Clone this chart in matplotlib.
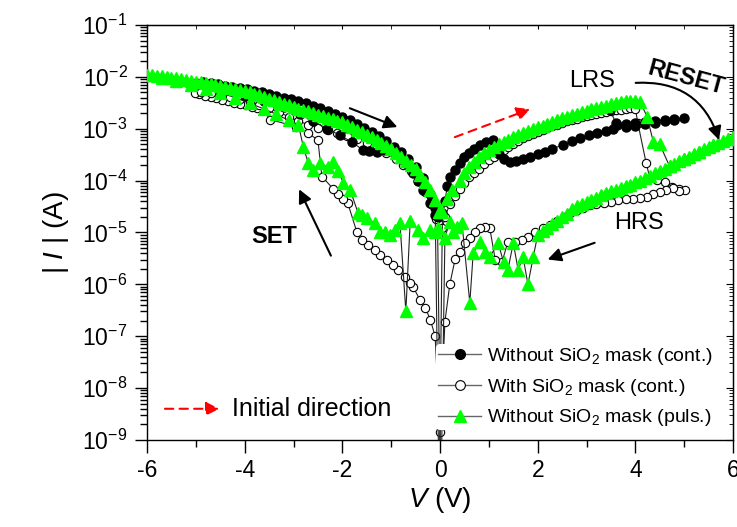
import matplotlib
matplotlib.use("Agg")
import matplotlib.pyplot as plt
from matplotlib.lines import Line2D
from matplotlib.patches import FancyArrowPatch

plt.rcParams['font.family'] = ['Liberation Sans', 'DejaVu Sans']
plt.rcParams['mathtext.fontset'] = 'custom'
plt.rcParams['mathtext.rm'] = 'Liberation Sans'
plt.rcParams['mathtext.it'] = 'Liberation Sans:italic'
plt.rcParams['mathtext.bf'] = 'Liberation Sans:bold'
plt.rcParams['axes.unicode_minus'] = False

# ---------------- data ----------------
labels = ["Without SiO$_2$ mask (cont.)", "With SiO$_2$ mask (cont.)", "Without SiO$_2$ mask (puls.)"]

# Without SiO2 mask, continuous sweep (filled black circles)
v_black = [-0.05, -0.1, -0.2, -0.35, -0.45, -0.55, -0.72, -0.92, -1.13, -1.29, -1.45, -1.58, -1.8, -2.05,
           -2.32, -2.6, -2.87, -3.2, -3.6, -4.0, -4.5, -5.0,
           -4.85, -4.7, -4.55, -4.4, -4.25, -4.1, -3.95, -3.8, -3.65, -3.5, -3.35, -3.2, -3.05, -2.9,
           -2.75, -2.6, -2.45, -2.3, -2.15, -2.0, -1.85, -1.7, -1.55, -1.4, -1.25, -1.1, -0.95, -0.8,
           -0.65, -0.5, -0.35, -0.2, -0.1, -0.02,
           0.05, 0.1, 0.15, 0.2, 0.3, 0.4, 0.5, 0.6, 0.7, 0.82, 0.95, 1.09,
           1.2, 1.3, 1.43, 1.55, 1.7, 1.84, 2.0, 2.15, 2.3, 2.52, 2.7, 2.87, 3.05, 3.22, 3.4, 3.55,
           3.62, 3.8, 4.0, 4.2, 4.4, 4.6, 4.8, 5.0,
           4.8, 4.6, 4.4, 4.2, 4.0, 3.8, 3.6, 3.48]
i_black = [2.0e-5, 2.2e-5, 3.7e-5, 6.6e-5, 1.0e-4, 1.4e-4, 2.2e-4, 3.2e-4, 3.9e-4, 3.6e-4, 3.7e-4, 3.9e-4, 5.5e-4, 7.5e-4,
           1.0e-3, 1.4e-3, 1.9e-3, 2.6e-3, 3.4e-3, 4.3e-3, 5.7e-3, 7.6e-3,
           8.0e-3, 7.6e-3, 7.2e-3, 6.8e-3, 6.5e-3, 6.1e-3, 5.8e-3, 5.4e-3, 5.0e-3, 4.7e-3, 4.3e-3, 4.0e-3, 3.7e-3, 3.4e-3,
           3.1e-3, 2.8e-3, 2.5e-3, 2.2e-3, 1.95e-3, 1.7e-3, 1.45e-3, 1.25e-3, 1.05e-3, 8.8e-4, 7.2e-4, 5.8e-4, 4.5e-4, 3.5e-4,
           2.6e-4, 1.8e-4, 1.1e-4, 5.5e-5, 3.0e-5, 1.0e-10,
           2.4e-5, 4.0e-5, 8.0e-5, 1.2e-4, 1.6e-4, 2.2e-4, 2.9e-4, 3.4e-4, 4.0e-4, 4.9e-4, 5.5e-4, 6.0e-4,
           3.2e-4, 2.6e-4, 2.3e-4, 2.4e-4, 2.6e-4, 2.9e-4, 3.2e-4, 3.6e-4, 4.1e-4, 4.9e-4, 5.7e-4, 6.6e-4, 7.5e-4, 8.3e-4, 9.2e-4, 1.0e-3,
           1.2e-3, 1.25e-3, 1.3e-3, 1.35e-3, 1.42e-3, 1.48e-3, 1.55e-3, 1.62e-3,
           1.45e-3, 1.38e-3, 1.3e-3, 1.22e-3, 1.15e-3, 1.1e-3, 1.3e-3, 2.3e-3]

# With SiO2 mask, continuous sweep (open circles)
v_open = [0.05, 0.1, 0.2, 0.3, 0.4, 0.5, 0.6, 0.7, 0.8, 0.9, 1.0, 1.1, 1.2, 1.3, 1.4, 1.5, 1.6, 1.7, 1.8, 1.9,
          2.0, 2.1, 2.2, 2.3, 2.4, 2.5, 2.6, 2.7, 2.8, 2.9, 3.0, 3.1, 3.2, 3.3, 3.4, 3.5, 3.6, 3.7, 3.8, 3.9, 4.0,
          4.05, 4.22, 4.3, 4.45, 4.6, 4.75, 4.9, 5.02,
          4.9, 4.77, 4.63, 4.5, 4.37, 4.24, 4.1, 3.95, 3.8, 3.65, 3.5, 3.35, 3.2, 3.07, 2.93, 2.8, 2.66, 2.53,
          2.4, 2.25, 2.11, 1.95, 1.8, 1.68, 1.54, 1.39, 1.27, 1.13, 1.02, 0.92, 0.82, 0.72, 0.61, 0.51, 0.41,
          0.31, 0.2, 0.1, 0.0, -0.1, -0.2, -0.3, -0.41, -0.55, -0.61, -0.72, -0.86, -0.96, -1.09, -1.23, -1.33,
          -1.48, -1.6, -1.7, -1.89, -1.99, -2.09, -2.19, -2.42, -2.5, -2.7, -2.95, -3.48,
          -3.62, -3.74, -3.86, -3.98, -4.1, -4.22, -4.34, -4.46, -4.58, -4.7, -4.82, -4.94, -5.02,
          -4.9, -4.7, -4.5, -4.3, -4.1, -3.9, -3.7, -3.5, -3.3, -3.1, -2.9, -2.7, -2.5, -2.3, -2.1, -1.9,
          -1.7, -1.5, -1.3, -1.1, -0.9, -0.75, -0.6, -0.45, -0.3, -0.18, -0.08]
i_open = [1.2e-5, 2.0e-5, 3.5e-5, 5.0e-5, 7.0e-5, 9.0e-5, 1.15e-4, 1.4e-4, 1.7e-4, 2.1e-4, 2.5e-4, 2.9e-4, 3.4e-4, 3.9e-4,
          4.5e-4, 5.1e-4, 5.8e-4, 6.5e-4, 7.3e-4, 8.0e-4,
          8.8e-4, 9.5e-4, 1.03e-3, 1.11e-3, 1.2e-3, 1.29e-3, 1.38e-3, 1.46e-3, 1.55e-3, 1.65e-3, 1.75e-3, 1.85e-3, 1.95e-3,
          2.03e-3, 2.1e-3, 2.18e-3, 2.25e-3, 2.32e-3, 2.4e-3, 2.5e-3, 2.45e-3,
          1.3e-3, 2.2e-4, 1.1e-4, 1.05e-4, 9.5e-5, 7.5e-5, 7.0e-5, 6.6e-5,
          6.2e-5, 7.2e-5, 6.6e-5, 6.0e-5, 5.4e-5, 4.9e-5, 4.7e-5, 4.5e-5, 4.4e-5, 4.2e-5, 3.9e-5, 3.7e-5, 3.6e-5, 3.4e-5,
          3.0e-5, 2.7e-5, 2.4e-5, 2.0e-5,
          1.7e-5, 1.4e-5, 1.2e-5, 1.0e-5, 8.3e-6, 7.2e-6, 6.6e-6, 6.6e-6, 2.7e-6, 3.0e-6, 1.2e-5, 1.3e-5, 1.2e-5, 1.0e-5,
          7.9e-6, 6.3e-6, 4.3e-6,
          3.1e-6, 1.0e-6, 1.9e-7, 1.4e-9, 1.0e-7, 2.1e-7, 3.5e-7, 5.0e-7, 8.9e-7, 1.07e-6, 1.4e-6, 1.9e-6, 2.4e-6, 3.0e-6,
          3.7e-6, 4.6e-6,
          5.8e-6, 7.3e-6, 1.0e-5, 3.7e-5, 4.5e-5, 5.5e-5, 7.0e-5, 1.2e-4, 6.0e-4, 8.3e-4, 1.1e-3, 1.5e-3,
          2.3e-3, 2.5e-3, 2.65e-3, 2.85e-3, 3.0e-3, 3.2e-3, 3.4e-3, 3.6e-3, 3.85e-3, 4.1e-3, 4.35e-3, 4.65e-3, 4.9e-3,
          5.2e-3, 4.9e-3, 4.5e-3, 4.1e-3, 3.7e-3, 3.3e-3, 2.9e-3, 2.5e-3, 2.1e-3, 1.7e-3, 1.4e-3, 1.2e-3, 1.05e-3,
          9.3e-4, 8.3e-4, 7.3e-4,
          6.3e-4, 5.3e-4, 4.3e-4, 3.4e-4, 2.6e-4, 2.0e-4, 1.5e-4, 1.0e-4, 6.0e-5, 3.5e-5, 1.8e-5]

# Without SiO2 mask, pulsed (green triangles)
v_puls = [0.05, 0.15, 0.25, 0.4, 0.5, 0.6, 0.7, 0.8, 0.9, 1.0, 1.1, 1.2, 1.3, 1.4, 1.5, 1.6, 1.7, 1.8, 1.9, 2.0,
          2.1, 2.2, 2.3, 2.4, 2.5, 2.6, 2.7, 2.8, 2.9, 3.0, 3.1, 3.2, 3.3, 3.4, 3.5, 3.6, 3.7, 3.8, 3.9, 4.0, 4.1,
          4.24, 4.37, 4.5, 4.7, 5.0, 5.3, 5.6, 5.9,
          6.0, 5.9, 5.8, 5.7, 5.6, 5.5, 5.4, 5.3, 5.2, 5.1, 5.0, 4.9, 4.8, 4.7, 4.6, 4.5, 4.4, 4.3, 4.2, 4.1,
          4.0, 3.9, 3.8, 3.7, 3.6, 3.5, 3.4, 3.3, 3.2, 3.1, 3.0, 2.9, 2.8, 2.7, 2.6, 2.5, 2.4, 2.3, 2.2, 2.1, 2.0,
          1.91, 1.8, 1.7, 1.6, 1.5, 1.39, 1.3, 1.19, 1.02, 0.92, 0.82, 0.68, 0.61, 0.45, 0.35, 0.27, 0.2, 0.1,
          0.02, -0.05, -0.1, -0.2, -0.35, -0.45, -0.61, -0.7, -0.82, -0.92, -1.02, -1.13, -1.23, -1.33, -1.5,
          -1.6, -1.68, -1.84, -1.98, -2.08, -2.19, -2.3, -2.46, -2.6, -2.7, -2.8,
          -2.9, -3.1, -3.35, -3.6, -3.9, -4.2, -4.5, -4.8, -5.1, -5.4, -5.7, -6.0,
          -5.9, -5.8, -5.7, -5.6, -5.5, -5.4, -5.3, -5.2, -5.1, -5.0, -4.9, -4.8, -4.7, -4.6, -4.5, -4.4, -4.3,
          -4.2, -4.1, -4.0, -3.9, -3.8, -3.7, -3.6, -3.5, -3.4, -3.3, -3.2, -3.1, -3.0, -2.9, -2.8, -2.7, -2.6,
          -2.5, -2.4, -2.3, -2.2, -2.1, -2.0, -1.9, -1.8, -1.7, -1.6, -1.5, -1.4, -1.3, -1.2, -1.1, -1.0, -0.9,
          -0.8, -0.7, -0.6, -0.5, -0.4, -0.3, -0.2, -0.1, -0.03]
i_puls = [2.5e-5, 4.5e-5, 6.5e-5, 1.0e-4, 1.4e-4, 1.8e-4, 2.3e-4, 2.8e-4, 3.4e-4, 3.9e-4, 4.5e-4, 5.0e-4, 5.6e-4, 6.2e-4,
          6.8e-4, 7.5e-4, 8.2e-4, 9.0e-4, 9.8e-4, 1.06e-3,
          1.15e-3, 1.25e-3, 1.35e-3, 1.45e-3, 1.58e-3, 1.7e-3, 1.82e-3, 1.95e-3, 2.08e-3, 2.2e-3, 2.35e-3, 2.5e-3, 2.65e-3,
          2.8e-3, 2.95e-3, 3.1e-3, 3.25e-3, 3.35e-3, 3.4e-3, 3.4e-3, 3.3e-3,
          1.7e-3, 5.5e-4, 5.0e-4, 1.9e-4, 2.6e-4, 3.6e-4, 4.9e-4, 6.4e-4,
          7.0e-4, 6.4e-4, 5.9e-4, 5.3e-4, 4.9e-4, 4.4e-4, 4.0e-4, 3.6e-4, 3.2e-4, 2.9e-4, 2.6e-4, 2.35e-4, 2.1e-4, 1.9e-4,
          1.7e-4, 1.55e-4, 1.4e-4, 1.25e-4, 1.1e-4, 1.0e-4,
          9.2e-5, 8.4e-5, 7.8e-5, 7.2e-5, 6.6e-5, 6.2e-5, 5.8e-5, 5.2e-5, 4.7e-5, 4.3e-5, 3.9e-5, 3.5e-5, 3.2e-5, 2.8e-5,
          2.3e-5, 2.0e-5, 1.7e-5, 1.45e-5, 1.2e-5, 1.05e-5, 9.0e-6,
          3.4e-6, 1.0e-6, 3.4e-6, 1.9e-6, 6.3e-6, 1.9e-6, 2.7e-6, 6.3e-6, 3.4e-6, 4.3e-6, 6.6e-6, 4.1e-6, 4.4e-7, 1.5e-5,
          1.3e-5, 1.0e-5, 1.6e-5, 8.0e-6,
          1.0e-10, 1.2e-5, 1.0e-5, 1.1e-5, 8.0e-6, 1.1e-5, 1.7e-5, 3.0e-7, 1.5e-5, 1.1e-5, 9.0e-6, 1.0e-5, 1.0e-5, 1.5e-5,
          1.9e-5,
          2.2e-5, 2.4e-5, 6.6e-5, 9.0e-5, 1.5e-4, 2.3e-4, 1.8e-4, 2.2e-4, 1.6e-4, 2.2e-4, 4.5e-4,
          1.2e-3, 1.45e-3, 1.9e-3, 2.4e-3, 3.1e-3, 4.0e-3, 4.9e-3, 5.8e-3, 7.0e-3, 8.4e-3, 9.6e-3, 1.1e-2,
          1.08e-2, 1.05e-2, 1.02e-2, 9.9e-3, 9.6e-3, 9.3e-3, 9.0e-3, 8.7e-3, 8.4e-3, 8.1e-3, 7.8e-3, 7.5e-3, 7.2e-3,
          6.9e-3, 6.6e-3, 6.3e-3, 6.0e-3,
          5.8e-3, 5.5e-3, 5.3e-3, 5.0e-3, 4.7e-3, 4.4e-3, 4.1e-3, 3.8e-3, 3.55e-3, 3.3e-3, 3.05e-3, 2.85e-3, 2.65e-3,
          2.45e-3, 2.3e-3, 2.15e-3, 2.0e-3,
          1.88e-3, 1.75e-3, 1.63e-3, 1.52e-3, 1.42e-3, 1.32e-3, 1.18e-3, 1.06e-3, 9.5e-4, 8.5e-4, 7.6e-4, 6.8e-4, 6.0e-4,
          5.3e-4, 4.6e-4, 4.0e-4, 3.4e-4,
          2.9e-4, 2.4e-4, 2.0e-4, 1.65e-4, 1.3e-4, 9.5e-5, 6.5e-5, 4.2e-5, 2.5e-5]

x_ticks = [-6, -4, -2, 0, 2, 4, 6]

# ---------------- figure ----------------
fig = plt.figure(figsize=(7.37, 5.27), dpi=100)
ax = fig.add_axes([0.1995, 0.1651, 0.7951, 0.7875])

line_col = '#222222'
ax.plot(v_open, i_open, '-', color=line_col, lw=0.8, marker='o', ms=6, mfc='white', mec='black', mew=0.8, zorder=2)
ax.plot(v_black, i_black, '-', color=line_col, lw=0.8, marker='o', ms=6.5, mfc='black', mec='black', zorder=3)
ax.plot(v_puls, i_puls, '-', color=line_col, lw=0.8, marker='^', ms=8, mfc='#00FF00', mec='#00FF00', zorder=4)

ax.set_yscale('log')
ax.set_xlim(-6, 6)
ax.set_ylim(1e-9, 1e-1)
ax.set_xticks(x_ticks)
ax.set_xticks([-5, -3, -1, 1, 3, 5], minor=True)
ax.tick_params(axis='both', which='major', labelsize=16.5, length=9, width=1, direction='out', pad=5)
ax.tick_params(axis='both', which='minor', length=5, width=1, direction='out')
for s in ax.spines.values():
    s.set_linewidth(1.0)

axr = ax.secondary_yaxis('right')
axr.tick_params(which='major', direction='in', length=5, labelright=False)
axr.tick_params(which='minor', direction='in', length=3)
axt = ax.secondary_xaxis('top')
axt.set_xticks(x_ticks)
axt.set_xticks([-5, -3, -1, 1, 3, 5], minor=True)
axt.tick_params(which='both', direction='in', length=3, labeltop=False)

ax.set_xlabel('$V$ (V)', fontsize=20, labelpad=2)
ax.set_ylabel('| $I$ | (A)', fontsize=20, labelpad=8)

# ---------------- annotations ----------------
def arrow(p0, p1, color='black', ls='-', rad=0.0, ms=20):
    a = FancyArrowPatch(p0, p1, arrowstyle='-|>', mutation_scale=ms, color=color, lw=1.5,
                        linestyle=ls, connectionstyle=f'arc3,rad={rad}', zorder=6)
    ax.add_patch(a)

arrow((-1.90, 2.6e-3), (-0.82, 1.03e-3))
arrow((-2.21, 3.2e-6), (-2.91, 7.6e-5))
arrow((3.22, 6.6e-6), (2.15, 2.9e-6))
arrow((3.95, 7.6e-3), (5.73, 5.4e-4), rad=-0.4)
arrow((0.25, 6.6e-4), (1.90, 2.5e-3), color='red', ls=(0, (4, 3)))
arrow((-5.69, 4.0e-9), (-4.46, 4.0e-9), color='red', ls=(0, (4, 3)))

ax.text(-3.4, 8.5e-6, 'SET', fontsize=17, fontweight='bold', ha='center', va='center', zorder=7)
ax.text(3.11, 8.3e-3, 'LRS', fontsize=17, ha='center', va='center', zorder=7)
ax.text(4.07, 1.5e-5, 'HRS', fontsize=17, ha='center', va='center', zorder=7)
ax.text(5.04, 9.5e-3, 'RESET', fontsize=17, fontweight='bold', ha='center', va='center', rotation=-15, zorder=7)
ax.text(-4.26, 4.0e-9, 'Initial direction', fontsize=18, ha='left', va='center', zorder=7)

handles = [
    Line2D([], [], color='#666666', lw=1, marker='o', ms=7, mfc='black', mec='black'),
    Line2D([], [], color='#666666', lw=1, marker='o', ms=7, mfc='white', mec='black', mew=0.8),
    Line2D([], [], color='#666666', lw=1, marker='^', ms=9, mfc='#00FF00', mec='#00FF00'),
]
leg = ax.legend(handles, labels, loc='lower right', bbox_to_anchor=(0.985, 0.0), fontsize=14,
                frameon=True, framealpha=1, facecolor='white', edgecolor='none', handlelength=2.2,
                handletextpad=0.3, labelspacing=0.5, borderpad=0.1)
leg.set_zorder(8)

fig.savefig('out.png', dpi=100)
